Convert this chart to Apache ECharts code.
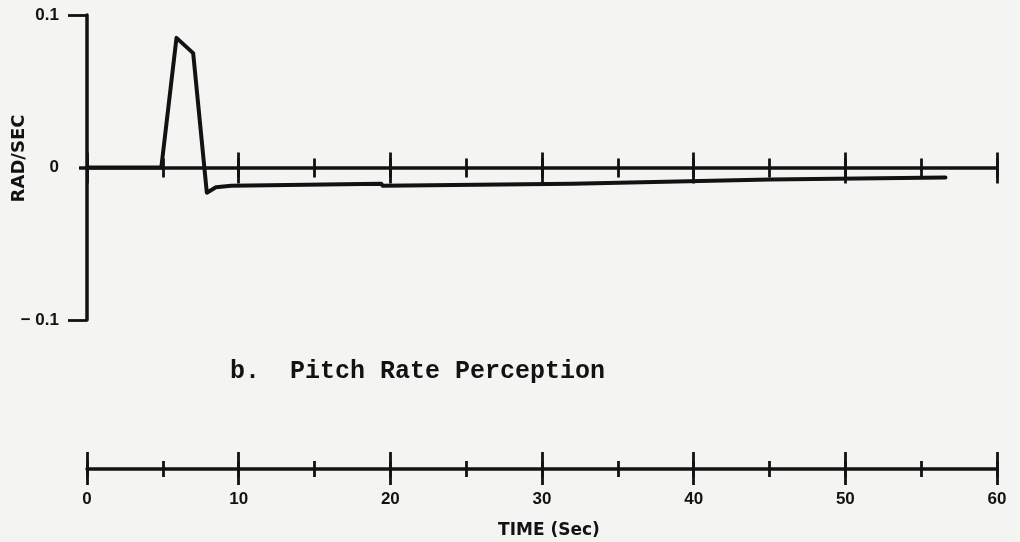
<!DOCTYPE html>
<html><head><meta charset="utf-8">
<script src="https://cdn.jsdelivr.net/npm/echarts@6/dist/echarts.min.js"></script>
<style>html,body{margin:0;padding:0;background:#f4f4f3}#c{width:1020px;height:542px}</style>
</head><body><div id="c"></div>
<script>
// Data
const timeSec   = [0, 4.9, 5.9, 7.0, 7.9, 8.5, 9.5, 19.4, 19.5, 32, 45, 56.6];
const pitchRate = [0, 0, 0.085, 0.075, -0.0165, -0.013, -0.012, -0.0106, -0.012, -0.0106, -0.0079, -0.0066];
const yTickValues = [-0.1, 0, 0.1];
const yTickLabels = ['\u2212 0.1', '0', '0.1'];
const xTickLabels = ['0', '10', '20', '30', '40', '50', '60'];
const titleText = 'b.  Pitch Rate Perception';
const yName = 'RAD/SEC';
const xName = 'TIME (Sec)';

const INK = '#121212';
const sans = 'Liberation Sans';

function tickAxis(grid, interval, inside, len, extra) {
  return Object.assign({
    type: 'value', gridIndex: grid, min: 0, max: 60, interval: interval,
    position: 'bottom',
    axisLine: { show: false, onZero: grid === 0, onZeroAxisIndex: 0 },
    axisTick: { show: true, inside: inside, length: len, lineStyle: { color: INK, width: 2.8 } },
    axisLabel: { show: false },
    splitLine: { show: false }
  }, extra || {});
}

const xAxes = [
  tickAxis(0, 10, false, 16, { axisLine: { show: true, onZero: true, onZeroAxisIndex: 0, lineStyle: { color: INK, width: 3.5 } } }),
  tickAxis(0, 10, true, 15),
  tickAxis(0, 5, false, 10),
  tickAxis(0, 5, true, 9),
  tickAxis(1, 10, false, 16, {
    axisLine: { show: true, onZero: false, lineStyle: { color: INK, width: 3.5 } },
    axisLabel: {
      show: true, margin: 22, color: INK, fontFamily: sans, fontWeight: 'bold', fontSize: 17,
      formatter: function (v) { return xTickLabels[Math.round(v / 10)]; }
    },
    name: xName, nameLocation: 'middle', nameGap: 53,
    nameTextStyle: { color: INK, fontFamily: 'DejaVu Sans', fontWeight: 'bold', fontSize: 17, padding: [0, 0, 0, 14] }
  }),
  tickAxis(1, 10, true, 17),
  tickAxis(1, 5, false, 8),
  tickAxis(1, 5, true, 8)
];

const option = {
  backgroundColor: '#f4f4f3',
  animation: false,
  title: {
    text: titleText, left: 225, top: 354,
    textStyle: { color: INK, fontFamily: 'Liberation Mono', fontWeight: 'bold', fontSize: 25 }
  },
  grid: [
    { left: 87, right: 23, top: 15, height: 305, containLabel: false, outerBoundsMode: 'none' },
    { left: 87, right: 23, top: 468, height: 1, containLabel: false, outerBoundsMode: 'none' }
  ],
  xAxis: xAxes,
  yAxis: [
    {
      type: 'value', gridIndex: 0, position: 'left', min: -0.1, max: 0.1, interval: 0.1,
      axisLine: { show: true, onZero: false, lineStyle: { color: INK, width: 3.5 } },
      axisTick: { show: true, length: 19, customValues: [yTickValues[0], yTickValues[2]], lineStyle: { color: INK, width: 2.8 } },
      axisLabel: {
        show: true, margin: 28, color: INK, fontFamily: sans, fontWeight: 'bold', fontSize: 17,
        customValues: yTickValues,
        formatter: function (v) { return yTickLabels[Math.round(v * 10) + 1]; }
      },
      splitLine: { show: false },
      name: yName, nameLocation: 'middle', nameGap: 59, nameRotate: 90, nameMoveOverlap: false,
      nameTextStyle: { color: INK, fontFamily: 'DejaVu Sans', fontWeight: 'bold', fontSize: 18, padding: [0, 0, 0, 18] }
    },
    {
      type: 'value', gridIndex: 0, position: 'left', min: -0.1, max: 0.1, interval: 0.1,
      axisLine: { show: false, onZero: false },
      axisTick: { show: true, length: 8, customValues: [yTickValues[1]], lineStyle: { color: INK, width: 3.5 } },
      axisLabel: { show: false },
      splitLine: { show: false }
    },
    { type: 'value', gridIndex: 1, min: 0, max: 1, show: false }
  ],
  series: [{
    type: 'line', xAxisIndex: 0, yAxisIndex: 0,
    data: timeSec.map(function (t, i) { return [t, pitchRate[i]]; }),
    showSymbol: false, symbol: 'none',
    lineStyle: { color: INK, width: 4, join: 'round', cap: 'round' },
    z: 5
  }]
};

const chart = echarts.init(document.getElementById('c'), null, { renderer: 'canvas' });
chart.setOption(option);
</script>
</body></html>
